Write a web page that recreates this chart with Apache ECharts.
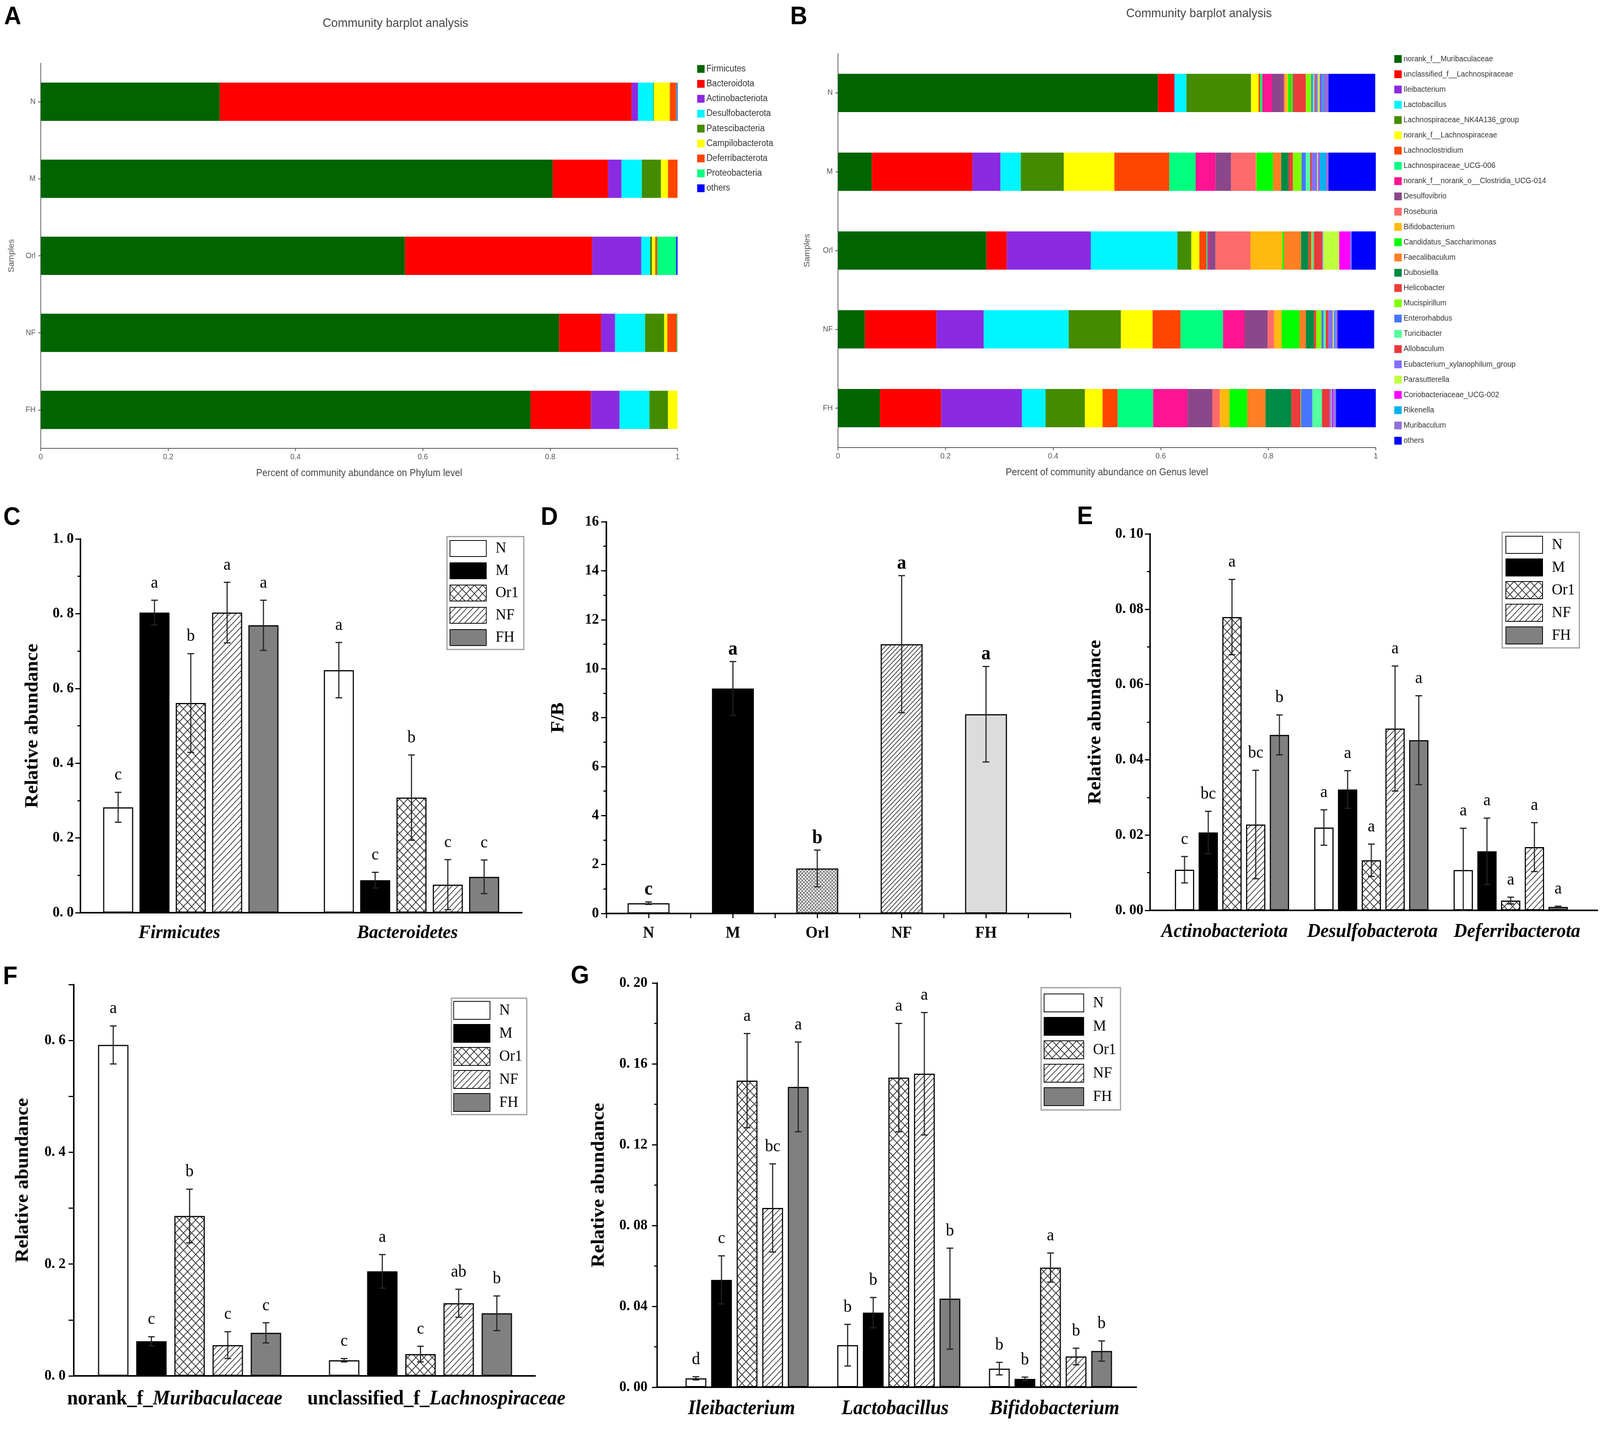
<!DOCTYPE html>
<html>
<head>
<meta charset="utf-8">
<script src="https://cdn.jsdelivr.net/npm/echarts@6/dist/echarts.min.js"></script>
<style>
    html, body {margin: 0; padding: 0; background: #fff; overflow: hidden;}
    #main {width: 4317px; height: 3659px; transform-origin: 0 0;}
</style>
</head>
<body>
<div id="main"></div>
<script>
var samples = ['N', 'M', 'Orl', 'NF', 'FH'];
var groupNames = ['N', 'M', 'Or1', 'NF', 'FH'];

// A - phylum level, one row per phylum, columns follow samples
var phyla = ['Firmicutes', 'Bacteroidota', 'Actinobacteriota', 'Desulfobacterota', 'Patescibacteria',
    'Campilobacterota', 'Deferribacterota', 'Proteobacteria', 'others'];
var phylumShare = [
    [0.281, 0.804, 0.572, 0.814, 0.769],
    [0.647, 0.087, 0.294, 0.066, 0.095],
    [0.010, 0.021, 0.077, 0.022, 0.045],
    [0.024, 0.032, 0.014, 0.047, 0.047],
    [0.001, 0.030, 0.003, 0.030, 0.029],
    [0.025, 0.011, 0.005, 0.005, 0.015],
    [0.010, 0.015, 0.003, 0.015, 0.001],
    [0.001, 0.000, 0.030, 0.001, 0.000],
    [0.001, 0.000, 0.002, 0.000, 0.000]
];

// B - genus level
var genera = ['norank_f__Muribaculaceae', 'unclassified_f__Lachnospiraceae', 'Ileibacterium', 'Lactobacillus',
    'Lachnospiraceae_NK4A136_group', 'norank_f__Lachnospiraceae', 'Lachnoclostridium', 'Lachnospiraceae_UCG-006',
    'norank_f__norank_o__Clostridia_UCG-014', 'Desulfovibrio', 'Roseburia', 'Bifidobacterium',
    'Candidatus_Saccharimonas', 'Faecalibaculum', 'Dubosiella', 'Helicobacter', 'Mucispirillum', 'Enterorhabdus',
    'Turicibacter', 'Allobaculum', 'Eubacterium_xylanophilum_group', 'Parasutterella', 'Coriobacteriaceae_UCG-002',
    'Rikenella', 'Muribaculum', 'others'];
var genusShare = [
    [0.595, 0.063, 0.276, 0.050, 0.078],
    [0.030, 0.187, 0.038, 0.133, 0.114],
    [0.001, 0.052, 0.156, 0.088, 0.150],
    [0.022, 0.038, 0.161, 0.158, 0.044],
    [0.120, 0.080, 0.026, 0.097, 0.073],
    [0.014, 0.094, 0.015, 0.059, 0.033],
    [0.003, 0.102, 0.013, 0.052, 0.028],
    [0.004, 0.049, 0.002, 0.079, 0.066],
    [0.018, 0.037, 0.003, 0.040, 0.064],
    [0.022, 0.029, 0.012, 0.043, 0.046],
    [0.002, 0.046, 0.065, 0.012, 0.014],
    [0.006, 0.001, 0.059, 0.014, 0.018],
    [0.006, 0.031, 0.003, 0.033, 0.033],
    [0.003, 0.015, 0.032, 0.012, 0.034],
    [0.002, 0.014, 0.014, 0.015, 0.048],
    [0.022, 0.008, 0.005, 0.004, 0.017],
    [0.010, 0.016, 0.003, 0.010, 0.001],
    [0.003, 0.008, 0.001, 0.004, 0.021],
    [0.003, 0.008, 0.001, 0.004, 0.018],
    [0.002, 0.003, 0.015, 0.005, 0.014],
    [0.004, 0.010, 0.002, 0.008, 0.003],
    [0.004, 0.002, 0.030, 0.002, 0.001],
    [0.002, 0.002, 0.021, 0.001, 0.003],
    [0.004, 0.012, 0.001, 0.002, 0.001],
    [0.010, 0.005, 0.001, 0.004, 0.004],
    [0.087, 0.088, 0.045, 0.068, 0.074]
];

// C - rows follow groups N, M, Or1, NF, FH
var cCategories = ['Firmicutes', 'Bacteroidetes'];
var cMean = [[0.282, 0.649], [0.803, 0.087], [0.561, 0.308], [0.803, 0.075], [0.769, 0.096]];
var cErr = [[0.040, 0.074], [0.033, 0.021], [0.132, 0.114], [0.081, 0.067], [0.067, 0.045]];
var cLetters = [['c', 'a'], ['a', 'c'], ['b', 'b'], ['a', 'c'], ['a', 'c']];

// D - F/B ratio
var dRatio = [0.42, 9.19, 1.84, 11.0, 8.14];
var dErr = [0.05, 1.10, 0.75, 2.80, 1.95];
var dLetters = ['c', 'a', 'b', 'a', 'a'];

// E
var eCategories = ['Actinobacteriota', 'Desulfobacterota', 'Deferribacterota'];
var eMean = [[0.0108, 0.0220, 0.0107], [0.0207, 0.0321, 0.0157], [0.0779, 0.0133, 0.0026],
    [0.0228, 0.0483, 0.0168], [0.0466, 0.0452, 0.0009]];
var eErr = [[0.0035, 0.0047, 0.0111], [0.0056, 0.0050, 0.0088], [0.0100, 0.0043, 0.0009],
    [0.0144, 0.0166, 0.0065], [0.0053, 0.0118, 0.0002]];
var eLetters = [['c', 'a', 'a'], ['bc', 'a', 'a'], ['a', 'a', 'a'], ['bc', 'a', 'a'], ['b', 'a', 'a']];

// F
var fCategories = ['norank_f_Muribaculaceae', 'unclassified_f_Lachnospiraceae'];
var fMean = [[0.592, 0.028], [0.062, 0.187], [0.286, 0.039], [0.055, 0.130], [0.077, 0.112]];
var fErr = [[0.034, 0.003], [0.008, 0.030], [0.048, 0.014], [0.024, 0.025], [0.018, 0.031]];
var fLetters = [['a', 'c'], ['c', 'a'], ['b', 'c'], ['c', 'ab'], ['c', 'b']];

// G
var gCategories = ['Ileibacterium', 'Lactobacillus', 'Bifidobacterium'];
var gMean = [[0.0044, 0.0208, 0.0092], [0.0531, 0.0369, 0.0041], [0.1517, 0.1532, 0.0592],
    [0.0887, 0.1551, 0.0152], [0.1486, 0.0438, 0.0179]];
var gErr = [[0.0008, 0.0103, 0.0031], [0.0119, 0.0075, 0.0009], [0.0233, 0.0268, 0.0072],
    [0.0218, 0.0303, 0.0041], [0.0222, 0.0250, 0.0050]];
var gLetters = [['d', 'b', 'b'], ['c', 'b', 'b'], ['a', 'a', 'a'], ['bc', 'a', 'b'], ['a', 'b', 'b']];

var phylumColors = ['#006400', '#FF0000', '#8A2BE2', '#00F5FF', '#458B00', '#FFFF00', '#FF4500', '#00FF7F', '#0000FF'];
var genusColors = ['#006400', '#FF0000', '#8A2BE2', '#00F5FF', '#458B00', '#FFFF00', '#FF4500', '#00FF7F',
    '#FF1493', '#8B4789', '#FF6A6A', '#FFB90F', '#00FF00', '#FF7F24', '#008B45', '#EE3B3B', '#7FFF00',
    '#4876FF', '#54FF9F', '#E8383B', '#836FFF', '#C0FF3E', '#FF00FF', '#00B2EE', '#9370DB', '#0000FF'];

var SANS = '"Liberation Sans", Arial, sans-serif';
var SERIF = '"Liberation Serif", "Times New Roman", serif';

// fit the 4317 x 3659 drawing into whatever viewport we get
var el = document.getElementById('main');
var sx = window.innerWidth / 4317, sy = window.innerHeight / 3659;
if (Math.abs(sx - 1) > 0.002 || Math.abs(sy - 1) > 0.002) {
    el.style.transform = 'scale(' + sx + ',' + sy + ')';
}

// hatch fills for the grey-scale bars
function hatch(size, cross, lw, color) {
    var c = document.createElement('canvas');
    c.width = size;
    c.height = size;
    var g = c.getContext('2d');
    g.fillStyle = '#fff';
    g.fillRect(0, 0, size, size);
    g.strokeStyle = color;
    g.lineWidth = lw;
    g.beginPath();
    g.moveTo(-1, size + 1); g.lineTo(size + 1, -1);
    g.moveTo(-1, 1); g.lineTo(1, -1);
    g.moveTo(size - 1, size + 1); g.lineTo(size + 1, size - 1);
    if (cross) {
        g.moveTo(-1, -1); g.lineTo(size + 1, size + 1);
        g.moveTo(size - 1, -1); g.lineTo(size + 1, 1);
        g.moveTo(-1, size - 1); g.lineTo(1, size + 1);
    }
    g.stroke();
    return {image: c, repeat: 'repeat'};
}

var groupStyles = [
    {color: '#fff', borderColor: '#000', borderWidth: 3},
    {color: '#000', borderColor: '#000', borderWidth: 3},
    {color: hatch(22, true, 2, '#333'), borderColor: '#000', borderWidth: 3},
    {color: hatch(16, false, 2, '#444'), borderColor: '#000', borderWidth: 3},
    {color: '#808080', borderColor: '#000', borderWidth: 3}
];
var dStyles = [
    {color: '#fff', borderColor: '#000', borderWidth: 3},
    {color: '#000', borderColor: '#000', borderWidth: 3},
    {color: hatch(9, true, 1.5, '#555'), borderColor: '#000', borderWidth: 3},
    {color: hatch(12, false, 2, '#444'), borderColor: '#000', borderWidth: 3},
    {color: '#dcdcdc', borderColor: '#000', borderWidth: 3}
];

var grid = [], xAxis = [], yAxis = [], series = [], legend = [], graphic = [];

function errorBar(api, off, letter, font, lift) {
    var x = api.value(0), y = api.value(1), e = api.value(2);
    var top = api.coord([x, y + e]);
    var bot = api.coord([x, Math.max(0, y - e)]);
    var cx = top[0] + off;
    var st = {stroke: '#222', lineWidth: 3};
    return {
        type: 'group',
        children: [
            {type: 'line', shape: {x1: cx, y1: bot[1], x2: cx, y2: top[1]}, style: st},
            {type: 'line', shape: {x1: cx - 9, y1: top[1], x2: cx + 9, y2: top[1]}, style: st},
            {type: 'line', shape: {x1: cx - 9, y1: bot[1], x2: cx + 9, y2: bot[1]}, style: st},
            {type: 'text', style: {text: letter, x: cx, y: top[1] - lift, align: 'center', verticalAlign: 'bottom', font: font, fill: '#000'}}
        ]
    };
}

// stacked community barplot (A, B)
function stackPanel(box, names, colors, share, xName, nameGapY, lg) {
    var gi = grid.length;
    grid.push({left: box[0], top: box[1], width: box[2], height: box[3]});
    var xi = xAxis.length;
    xAxis.push({
        gridIndex: gi, type: 'value', min: 0, max: 1, interval: 0.2,
        name: xName, nameLocation: 'middle', nameGap: 52,
        nameTextStyle: {fontFamily: SANS, fontSize: 25, color: '#444'},
        axisLine: {show: true, lineStyle: {color: '#555', width: 2}},
        axisTick: {show: true, length: 7, lineStyle: {color: '#555', width: 2}},
        axisLabel: {fontFamily: SANS, fontSize: 20, color: '#555', margin: 12},
        splitLine: {show: false}
    });
    var yi = yAxis.length;
    yAxis.push({
        gridIndex: gi, type: 'category', data: samples, inverse: true,
        name: 'Samples', nameLocation: 'middle', nameGap: nameGapY,
        nameTextStyle: {fontFamily: SANS, fontSize: 22, color: '#555'},
        axisLine: {show: true, lineStyle: {color: '#555', width: 2}},
        axisTick: {show: true, alignWithLabel: true, length: 7, lineStyle: {color: '#555', width: 2}},
        axisLabel: {fontFamily: SANS, fontSize: 20, color: '#555', margin: 14}
    });
    for (var k = 0; k < names.length; k++) {
        series.push({
            type: 'bar', name: names[k], stack: 'st' + gi, xAxisIndex: xi, yAxisIndex: yi,
            barWidth: 98, data: share[k], itemStyle: {color: colors[k]}
        });
    }
    legend.push({
        orient: 'vertical', left: lg[0], top: lg[1], data: names, selectedMode: false,
        icon: 'rect', itemWidth: 20, itemHeight: 20, itemGap: lg[2],
        textStyle: {fontFamily: SANS, fontSize: lg[3], lineHeight: 20, color: '#333'}
    });
}

// grouped bar panel with error bars (C, E, F, G)
function groupPanel(p) {
    var ga = grid.length;
    grid.push({left: p.box[0], top: p.box[1], width: p.box[2], height: p.box[3]});
    var gb = grid.length;
    grid.push({left: p.bars[0], top: p.box[1], width: p.bars[1], height: p.box[3]});
    xAxis.push({
        gridIndex: ga, type: 'value', min: 0, max: 1,
        axisLine: {show: true, lineStyle: {color: '#000', width: 4}},
        axisTick: {show: false}, axisLabel: {show: false}, splitLine: {show: false}
    });
    yAxis.push({
        gridIndex: ga, type: 'value', min: 0, max: p.max, interval: p.step,
        name: 'Relative abundance', nameLocation: 'middle', nameGap: p.nameGap,
        nameTextStyle: {fontFamily: SERIF, fontWeight: 'bold', fontSize: 50, color: '#000'},
        axisLine: {show: true, lineStyle: {color: '#000', width: 4}},
        axisTick: {show: true, length: 14, lineStyle: {color: '#000', width: 3}},
        minorTick: {show: p.minor, splitNumber: 2, length: 8, lineStyle: {color: '#000', width: 3}},
        axisLabel: {formatter: p.fmt, fontFamily: SERIF, fontWeight: 'bold', fontSize: 38, color: '#000', margin: p.labelMargin},
        splitLine: {show: false}
    });

    // category labels are nudged off the group centre the way the figure has them
    var rich = {};
    var richBase = p.rich || {};
    for (var r in richBase) rich[r] = richBase[r];
    p.shift.forEach(function (s, k) {
        rich['s' + k] = {width: Math.abs(2 * s), fontSize: 10};
    });
    var xb = xAxis.length;
    xAxis.push({
        gridIndex: gb, type: 'category', data: p.cats,
        axisLine: {show: false}, axisTick: {show: false},
        axisLabel: {
            interval: 0, hideOverlap: false, margin: p.catMargin, rich: rich,
            fontFamily: SERIF, fontWeight: 'bold', fontStyle: 'italic', fontSize: p.catSize, color: '#000',
            formatter: function (v, idx) {
                var t = p.catFmt ? p.catFmt(v) : v;
                var s = p.shift[idx] || 0;
                if (s < 0) return t + '{s' + idx + '| }';
                if (s > 0) return '{s' + idx + '| }' + t;
                return t;
            }
        }
    });
    var yb = yAxis.length;
    yAxis.push({gridIndex: gb, type: 'value', min: 0, max: p.max, show: false});

    for (var i = 0; i < 5; i++) {
        series.push({
            type: 'bar', name: groupNames[i], xAxisIndex: xb, yAxisIndex: yb,
            barWidth: p.barW, barGap: (p.gap / p.barW * 100) + '%',
            data: p.mean[i], itemStyle: groupStyles[i]
        });
    }
    for (var j = 0; j < 5; j++) {
        (function (i) {
            var off = (i - 2) * (p.barW + p.gap);
            series.push({
                type: 'custom', xAxisIndex: xb, yAxisIndex: yb, z: 5,
                data: p.cats.map(function (c, k) {
                    return [k, p.mean[i][k], p.err[i][k]];
                }),
                renderItem: function (params, api) {
                    return errorBar(api, off, p.letters[i][params.dataIndex], '44px ' + SERIF, 22);
                }
            });
        })(j);
    }
    legend.push({
        orient: 'vertical', left: p.legend[0], top: p.legend[1], data: groupNames, selectedMode: false,
        icon: 'rect', itemWidth: p.legend[2], itemHeight: p.legend[3], itemGap: p.legend[4],
        padding: p.legend[5], borderColor: '#9a9a9a', borderWidth: 3,
        textStyle: {fontFamily: SERIF, fontSize: 40, color: '#000', padding: [0, 0, 0, 20]}
    });
}

function dotted(digits) {
    return function (v) {
        return v.toFixed(digits).replace('.', '. ');
    };
}

stackPanel([110, 162, 1718, 986], phyla, phylumColors, phylumShare,
    'Percent of community abundance on Phylum level', 68, [1876, 160, 15.2, 23]);
stackPanel([2261, 137, 1451, 1009], genera, genusColors, genusShare,
    'Percent of community abundance on Genus level', 72, [3757, 136, 19.1, 20]);

groupPanel({
    box: [217, 1380, 1191, 957], bars: [217, 1191], cats: cCategories, mean: cMean, err: cErr, letters: cLetters,
    max: 1, step: 0.2, minor: true, fmt: dotted(1), nameGap: 104, labelMargin: 18, catMargin: 28, catSize: 49,
    shift: [-31, -11], barW: 81, gap: 17, legend: [1206, 1374, 98, 41, 14, [9, 14, 9, 7]]
});
groupPanel({
    box: [3103, 1367, 1207, 964], bars: [3136, 1128], cats: eCategories, mean: eMean, err: eErr, letters: eLetters,
    max: 0.1, step: 0.02, minor: true, fmt: dotted(2), nameGap: 122, labelMargin: 18, catMargin: 30, catSize: 50,
    shift: [-20, 3, 17], barW: 52, gap: 12, legend: [4053, 1363, 99, 44, 12, [9, 12, 9, 9]]
});
groupPanel({
    box: [199, 2521, 1245, 1002], bars: [200, 1246], cats: fCategories, mean: fMean, err: fErr, letters: fLetters,
    max: 0.7, step: 0.1, minor: false, nameGap: 112, labelMargin: 22, catMargin: 34, catSize: 52,
    fmt: function (v) {
        var t = Math.round(v * 10);
        return t % 2 === 0 ? (t / 10).toFixed(1).replace('.', '. ') : '';
    },
    catFmt: function (v) {
        var parts = v.split('_f_');
        return '{n|' + parts[0] + '_f_}{i|' + parts[1] + '}';
    },
    rich: {
        n: {fontFamily: SERIF, fontWeight: 'bold', fontStyle: 'normal', fontSize: 52, color: '#000'},
        i: {fontFamily: SERIF, fontWeight: 'bold', fontStyle: 'italic', fontSize: 52, color: '#000'}
    },
    shift: [-40, 43], barW: 82, gap: 21, legend: [1218, 2556, 98, 46, 11, [7, 12, 7, 5]]
});
groupPanel({
    box: [1773, 2517, 1293, 1035], bars: [1811, 1228], cats: gCategories, mean: gMean, err: gErr, letters: gLetters,
    max: 0.2, step: 0.04, minor: true, fmt: dotted(2), nameGap: 132, labelMargin: 26, catMargin: 30, catSize: 52,
    shift: [-15, -10, 11], barW: 56, gap: 13, legend: [2809, 2529, 107, 46, 12, [15, 12, 10, 7]]
});

// D - F/B ratio on a value x axis, groups sit at 1..5
(function () {
    var gi = grid.length;
    grid.push({left: 1636, top: 1336, width: 1252, height: 1003});
    var xi = xAxis.length;
    xAxis.push({
        gridIndex: gi, type: 'value', min: 0.5, max: 6, interval: 0.5,
        axisLine: {show: true, lineStyle: {color: '#000', width: 4}},
        axisTick: {show: true, length: 12, lineStyle: {color: '#000', width: 3}},
        axisLabel: {
            fontFamily: SERIF, fontWeight: 'bold', fontSize: 42, color: '#000', margin: 30,
            formatter: function (v) {
                var k = Math.round(v);
                return (Math.abs(v - k) < 1e-6 && k >= 1 && k <= 5) ? samples[k - 1] : '';
            }
        },
        splitLine: {show: false}
    });
    var yi = yAxis.length;
    yAxis.push({
        gridIndex: gi, type: 'value', min: 0, max: 16, interval: 2,
        name: 'F/B', nameLocation: 'middle', nameGap: 104,
        nameTextStyle: {fontFamily: SERIF, fontWeight: 'bold', fontSize: 50, color: '#000'},
        axisLine: {show: true, lineStyle: {color: '#000', width: 4}},
        axisTick: {show: true, length: 14, lineStyle: {color: '#000', width: 3}},
        minorTick: {show: true, splitNumber: 2, length: 8, lineStyle: {color: '#000', width: 3}},
        axisLabel: {fontFamily: SERIF, fontWeight: 'bold', fontSize: 38, color: '#000', margin: 20},
        splitLine: {show: false}
    });
    series.push({
        type: 'bar', name: 'F/B', xAxisIndex: xi, yAxisIndex: yi, barWidth: 113,
        data: dRatio.map(function (v, k) {
            return {value: [k + 1, v], itemStyle: dStyles[k]};
        })
    });
    series.push({
        type: 'custom', xAxisIndex: xi, yAxisIndex: yi, z: 5,
        data: dRatio.map(function (v, k) {
            return [k + 1, v, dErr[k]];
        }),
        renderItem: function (params, api) {
            return errorBar(api, 0, dLetters[params.dataIndex], 'bold 50px ' + SERIF, 6);
        }
    });
})();

// panel letters and titles
var panelTags = [['A', 11, 12], ['B', 2132, 12], ['C', 9, 1294], ['D', 1459, 1294], ['E', 2906, 1292],
    ['F', 8, 2470], ['G', 1540, 2468]];
panelTags.forEach(function (t) {
    graphic.push({type: 'text', left: t[1], top: t[2], style: {text: t[0], font: 'bold 64px ' + SANS, fill: '#000'}});
});
graphic.push({type: 'text', x: 1067, y: 60, style: {text: 'Community barplot analysis', font: '32px ' + SANS, fill: '#444', align: 'center', verticalAlign: 'middle'}});
graphic.push({type: 'text', x: 3235, y: 35, style: {text: 'Community barplot analysis', font: '32px ' + SANS, fill: '#444', align: 'center', verticalAlign: 'middle'}});

var myChart = echarts.init(el);
myChart.setOption({
    animation: false,
    backgroundColor: '#fff',
    grid: grid,
    xAxis: xAxis,
    yAxis: yAxis,
    legend: legend,
    series: series,
    graphic: graphic
});
</script>
</body>
</html>
